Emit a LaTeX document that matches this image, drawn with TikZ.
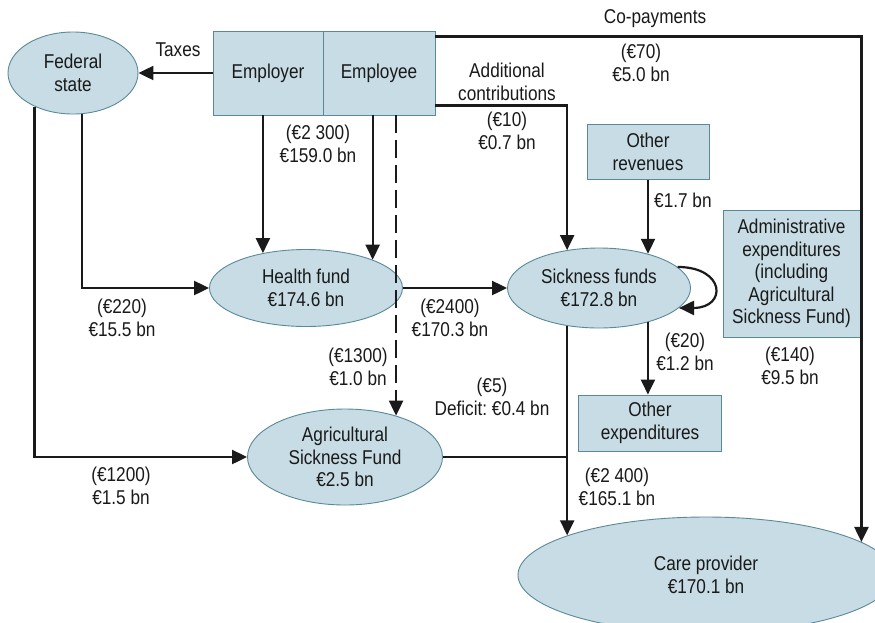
\documentclass[tikz,border=0pt]{standalone}
\usepackage{fontspec}
\setmainfont{Liberation Sans}[FakeStretch=0.86]
\usepackage{xcolor}
\usepackage{tikz}
\usetikzlibrary{arrows.meta,shapes.geometric}
\definecolor{HFFill}{HTML}{C7DCE4}
\definecolor{HFBorder}{HTML}{5A8A9A}
\definecolor{HFText}{HTML}{1A1A1A}
\tikzset{
  fundoval/.style={ellipse, fill=HFFill, draw=HFBorder, line width=0.9pt, inner sep=0pt, align=center, text=HFText},
  fundbox/.style={rectangle, fill=HFFill, draw=HFBorder, line width=0.9pt, inner sep=0pt, align=center, text=HFText},
  flowline/.style={draw=HFText, line width=2.2pt, -{Triangle[length=15pt,width=14pt]}},
  joinline/.style={draw=HFText, line width=2.2pt},
  lbl/.style={inner sep=0pt, align=center, text=HFText}
}

\begin{document}
\begin{tikzpicture}[x=1pt, y=-1pt, font=\fontsize{20}{22.5}\selectfont\frenchspacing]
  \useasboundingbox (0,0) rectangle (875,622);
  \fill[white] (0,0) rectangle (875,622);
  \clip (0,0) rectangle (875,622);

  \node[fundoval, minimum width=130pt, minimum height=82pt] (fed) at (73,73) {Federal\\state};
  \node[fundbox, minimum width=110pt, minimum height=84pt] (employer) at (268,73) {Employer};
  \node[fundbox, minimum width=112pt, minimum height=84pt] (employee) at (379,73) {Employee};
  \node[fundoval, minimum width=193pt, minimum height=77pt] (health) at (306,288) {Health fund\\€174.6 bn};
  \node[fundoval, minimum width=183pt, minimum height=80pt] (sick) at (599,288) {Sickness funds\\€172.8 bn};
  \node[fundoval, minimum width=195pt, minimum height=96pt] (agri) at (345,457) {Agricultural\\Sickness Fund\\€2.5 bn};
  \node[fundoval, minimum width=376pt, minimum height=116pt] (care) at (706,575) {Care provider\\€170.1 bn};
  \node[fundbox, minimum width=122pt, minimum height=55pt] (othrev) at (648,152) {Other\\revenues};
  \node[fundbox, minimum width=143pt, minimum height=56pt] (othexp) at (650,423) {Other\\expenditures};
  \node[fundbox, minimum width=137pt, minimum height=127pt] (admin) at (791.5,273.5) {Administrative\\expenditures\\(including\\Agricultural\\Sickness Fund)};

  \node[lbl] (taxes) at (178,50) {Taxes};
  \node[lbl] (copay) at (655,19) {Co-payments};
  \node[lbl] (copayval) at (641,63) {(€70)\\€5.0 bn};
  \node[lbl] (addl) at (507,82) {Additional\\contributions};
  \node[lbl] (addlval) at (507,131) {(€10)\\€0.7 bn};
  \node[lbl] (empval) at (318,144) {(€2 300)\\€159.0 bn};
  \node[lbl, anchor=west] (othrevval) at (654,200) {€1.7 bn};
  \node[lbl] (fedhval) at (122,318) {(€220)\\€15.5 bn};
  \node[lbl] (healthval) at (450,318) {(€2400)\\€170.3 bn};
  \node[lbl] (dashval) at (358,367) {(€1300)\\€1.0 bn};
  \node[lbl] (deficit) at (492,397) {(€5)\\Deficit: €0.4 bn};
  \node[lbl] (othexpval) at (685,352) {(€20)\\€1.2 bn};
  \node[lbl] (adminval) at (790,366) {(€140)\\€9.5 bn};
  \node[lbl] (careval) at (617,487) {(€2 400)\\€165.1 bn};
  \node[lbl] (fedaval) at (121,486) {(€1200)\\€1.5 bn};

  \draw[flowline] (employer.west) -- (fed.east);
  \draw[flowline] ([yshift=-6pt]employee.north east) -| (care.12);
  \draw[flowline] ([yshift=10pt]employee.south east) -| (sick.130);
  \draw[flowline] (health.141 |- employer.south) -- (health.141);
  \draw[flowline] (health.23 |- employee.south) -- (health.23);
  \draw[flowline, dash pattern=on 18pt off 7pt] (agri.39 |- employee.south) -- (agri.39);
  \draw[flowline] (fed.-78) |- (health.west);
  \draw[flowline] (fed.-139) |- (agri.west);
  \draw[flowline] (health.east) -- (sick.west);
  \draw[flowline] (othrev.south) -- (othrev.south |- sick.35);
  \draw[flowline] (sick.-35) -- (sick.-35 |- othexp.north);
  \draw[flowline] (sick.-130) -- (sick.-130 |- care.164);
  \draw[joinline] (agri.east) -- (agri.east -| sick.-130);
  \draw[flowline] (sick.15) to[out=0, in=0, looseness=3] (sick.-14);
\end{tikzpicture}
\end{document}
